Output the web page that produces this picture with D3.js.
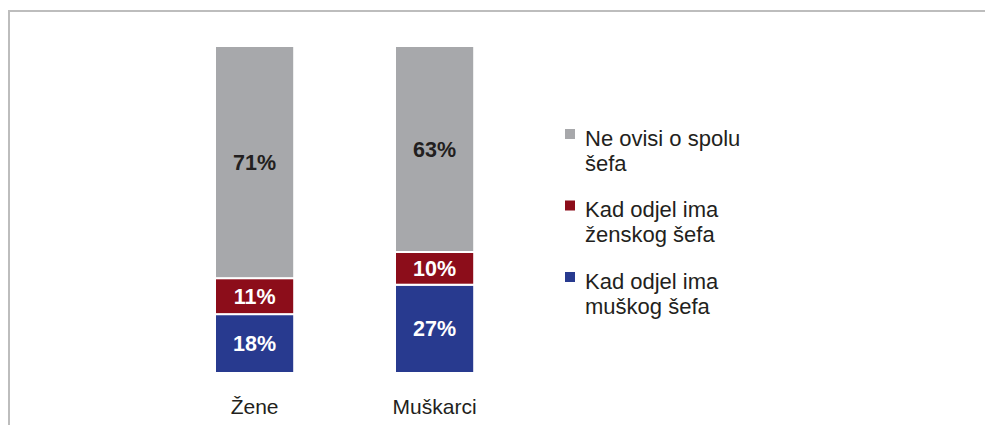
<!DOCTYPE html>
<html>
<head>
<meta charset="utf-8">
<script src="https://cdn.jsdelivr.net/npm/d3@7"></script>
<style>
  body { margin: 0; background: #fff; }
  svg { display: block; font-family: Arial, "Liberation Sans", sans-serif; }
</style>
</head>
<body>
<div id="chart"></div>
<script>
// data
var categories = ["Žene", "Muškarci"];
var seriesKeys = ["musko", "zensko", "neovisi"];
var seriesLabels = {
    neovisi: ["Ne ovisi o spolu", "šefa"],
    zensko: ["Kad odjel ima", "ženskog šefa"],
    musko: ["Kad odjel ima", "muškog šefa"]
};
var neovisiValues = [71, 63];
var zenskoValues = [11, 10];
var muskoValues = [18, 27];

var colors = { neovisi: "#a7a8ab", zensko: "#8c0d1a", musko: "#283a8f" };
var labelColors = { neovisi: "#231f20", zensko: "#fff", musko: "#fff" };

var rows = categories.map(function(c, i) {
    return { cat: c, neovisi: neovisiValues[i], zensko: zenskoValues[i], musko: muskoValues[i] };
});

var width = 985, height = 425;

var svg = d3.select("#chart").append("svg")
    .attr("width", width)
    .attr("height", height);

// frame (top + left edge only)
svg.append("path")
    .attr("d", "M9,425 V11 H985")
    .attr("fill", "none")
    .attr("stroke", "#bdbdbd")
    .attr("stroke-width", 2);

var x = d3.scaleBand()
    .domain(categories)
    .range([164.6, 524.6])
    .paddingInner(0.56)
    .paddingOuter(0.28);

var y = d3.scaleLinear()
    .domain([0, 100])
    .range([373, 46]);

var stack = d3.stack().keys(seriesKeys);
var stacked = stack(rows);

var layers = svg.append("g").selectAll("g")
    .data(stacked)
    .enter().append("g")
    .attr("fill", function(d) { return colors[d.key]; });

layers.selectAll("rect")
    .data(function(d) { return d; })
    .enter().append("rect")
    .attr("x", function(d) { return x(d.data.cat); })
    .attr("y", function(d) { return y(d[1]); })
    .attr("width", x.bandwidth())
    .attr("height", function(d) { return y(d[0]) - y(d[1]); })
    .attr("stroke", "#fff")
    .attr("stroke-width", 2);

// value labels
layers.selectAll("text")
    .data(function(d) { return d.map(function(p) { p.key = d.key; return p; }); })
    .enter().append("text")
    .attr("x", function(d) { return x(d.data.cat) + x.bandwidth() / 2; })
    .attr("y", function(d) { return (y(d[0]) + y(d[1])) / 2 + 7.5; })
    .attr("text-anchor", "middle")
    .attr("font-size", "21.5px")
    .attr("font-weight", "bold")
    .attr("fill", function(d) { return labelColors[d.key]; })
    .text(function(d) { return (d[1] - d[0]) + "%"; });

// category labels
svg.append("g").selectAll("text")
    .data(categories)
    .enter().append("text")
    .attr("x", function(d) { return x(d) + x.bandwidth() / 2; })
    .attr("y", 413.5)
    .attr("text-anchor", "middle")
    .attr("font-size", "21px")
    .attr("fill", "#231f20")
    .text(function(d) { return d; });

// legend
var legendOrder = ["neovisi", "zensko", "musko"];
var legend = svg.append("g").attr("transform", "translate(565,129)");

legendOrder.forEach(function(k, i) {
    var g = legend.append("g").attr("transform", "translate(0," + (i * 71.5) + ")");
    g.append("rect")
        .attr("width", 10)
        .attr("height", 10)
        .attr("fill", colors[k]);
    seriesLabels[k].forEach(function(line, j) {
        g.append("text")
            .attr("x", 20)
            .attr("y", 16.5 + j * 25)
            .attr("font-size", "22px")
            .attr("fill", "#231f20")
            .text(line);
    });
});
</script>
</body>
</html>
